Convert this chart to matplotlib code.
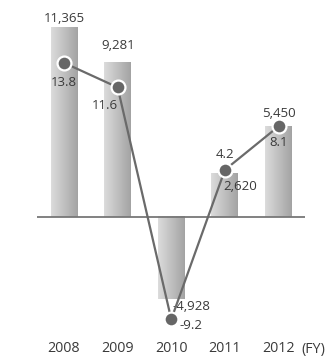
import numpy as np
import matplotlib
matplotlib.use("Agg")
from matplotlib import pyplot as plt

years = ['2008', '2009', '2010', '2011', '2012']
income = [11365, 9281, -4928, 2620, 5450]
ratio = [13.8, 11.6, -9.2, 4.2, 8.1]

plt.rcParams['font.family'] = ['Open Sans', 'DejaVu Sans']
txt = '#3a3a3a'

W, H = 332, 356
fig = plt.figure(figsize=(W / 100, H / 100), dpi=100)

# axes box in pixels (left, top, right, bottom)
L, T, R, B = 37, 10, 305, 330
ax = fig.add_axes([L / W, 1 - B / H, (R - L) / W, (B - T) / H])
ax2 = ax.twinx()

zero_px = 216.7
ylim1 = (-(B - zero_px) / 0.01669, (zero_px - T) / 0.01669)
ylim2 = (-(B - zero_px) / 11.15, (zero_px - T) / 11.15)
xlim = (-0.504, 4.494)

x = np.arange(len(years))
bw = 0.5
grad = np.linspace(0.86, 0.64, 64).reshape(1, -1)
for xi, v in zip(x, income):
    ax.imshow(grad, cmap='gray', vmin=0, vmax=1, aspect='auto',
              extent=(xi - bw / 2, xi + bw / 2, min(0, v), max(0, v)),
              interpolation='bilinear', zorder=1)
ax.set_xlim(*xlim)
ax.set_ylim(*ylim1)
ax2.set_xlim(*xlim)
ax2.set_ylim(*ylim2)

ax.axhline(0, color='#777777', lw=1.3, zorder=2)

ax2.plot(x, ratio, color='#6a6a6a', lw=1.6, zorder=3)
ax2.plot(x, ratio, 'o', ms=10, mfc='#666666', mec='white', mew=1.6, zorder=4)

px = 0.72  # points per pixel at 100 dpi
fs = 9.5

# bar labels: (dx, dy, ha) offsets in pixels
bar_off = [(0, 9, 'center'), (1, 16, 'center'), (1, -8, 'left'),
           (-1.5, -14, 'left'), (0.5, 12, 'center')]
for xi, v, (dx, dy, ha) in zip(x, income, bar_off):
    ax.annotate(f'{v:,}', (xi, v), xytext=(dx * px, dy * px),
                textcoords='offset points', ha=ha, va='center',
                fontsize=fs, color=txt, zorder=5)

# ratio labels
r_off = [(0, -20, 'center'), (-13, -18, 'center'), (8, -6, 'left'),
         (0, 15, 'center'), (0, -16, 'center')]
for xi, v, (dx, dy, ha) in zip(x, ratio, r_off):
    ax2.annotate(f'{v}', (xi, v), xytext=(dx * px, dy * px),
                 textcoords='offset points', ha=ha, va='center',
                 fontsize=fs, color=txt, zorder=5)

for a in (ax, ax2):
    for s in a.spines.values():
        s.set_visible(False)
    a.set_yticks([])
    a.set_xticks([])

for xi, yr in zip(x, years):
    fig.text((L + (xi + 0.504) * 53.6) / W, 1 - 349 / H, yr, ha='center',
             va='center', fontsize=10.3, color=txt)
fig.text(313 / W, 1 - 349 / H, '(FY)', ha='center', va='center',
         fontsize=10.3, color=txt)

fig.savefig('out.png', dpi=100)
